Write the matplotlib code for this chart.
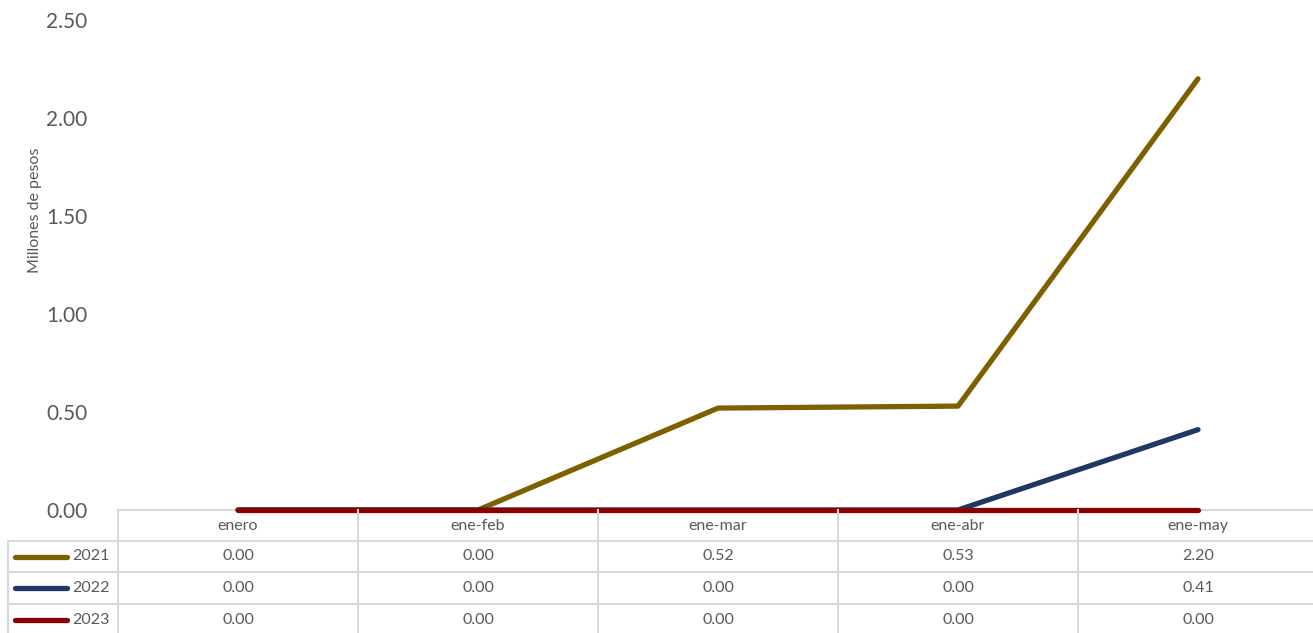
import matplotlib.pyplot as plt

# datos acumulados (millones de pesos)
periodos = ["enero", "ene-feb", "ene-mar", "ene-abr", "ene-may"]
anios = ["2021", "2022", "2023"]
v2021 = [0.00, 0.00, 0.52, 0.53, 2.20]
v2022 = [0.00, 0.00, 0.00, 0.00, 0.41]
v2023 = [0.00, 0.00, 0.00, 0.00, 0.00]
colores = ["#7F6000", "#203864", "#8B0000"]
yticks = [0.0, 0.5, 1.0, 1.5, 2.0, 2.5]

plt.rcParams['font.family'] = ['Lato', 'DejaVu Sans']
gris = "#595959"
linea = "#D9D9D9"

W, H = 1313, 633
fig = plt.figure(figsize=(W / 100, H / 100), dpi=100)

def fx(px):
    return px / W

def fy(py):
    return 1 - py / H

x0, x1 = 118, 1318
ytop, ybot = 20, 510
ax = fig.add_axes([fx(x0), fy(ybot), (x1 - x0) / W, (ybot - ytop) / H])
ax.set_xlim(-0.5, len(periodos) - 0.5)
ax.set_ylim(0, 2.5)

series = [v2021, v2022, v2023]
xs = range(len(periodos))
for vals, c in zip(series, colores):
    ax.plot(xs, vals, color=c, lw=3.8, solid_capstyle='round', clip_on=False, zorder=3)

for s in ["top", "right", "left"]:
    ax.spines[s].set_visible(False)
ax.spines["bottom"].set_color(linea)
ax.spines["bottom"].set_linewidth(1.5)
ax.spines["bottom"].set_zorder(1)
ax.set_xticks([])
ax.set_yticks(yticks)
ax.set_yticklabels([f"{t:.2f}" for t in yticks], fontsize=15, color=gris)
ax.tick_params(axis='y', length=0, pad=22)

fig.text(fx(35), fy(210), "Millones de pesos", rotation=90, ha='center', va='center',
         fontsize=11.5, color=gris)

# tabla de datos bajo el eje
col_w = 240
filas_y = [541, 572, 604, 636]
bordes_x = [x0 + col_w * i for i in range(len(periodos) + 1)]
for bx in bordes_x:
    fig.add_artist(plt.Line2D([fx(bx), fx(bx)], [fy(ybot), fy(H)], color=linea, lw=1.5))
fig.add_artist(plt.Line2D([fx(8), fx(8)], [fy(filas_y[0]), fy(H)], color=linea, lw=1.5))
for ry in filas_y[:-1]:
    fig.add_artist(plt.Line2D([fx(8), 1], [fy(ry), fy(ry)], color=linea, lw=1.5))

for i, p in enumerate(periodos):
    cx = x0 + col_w * (i + 0.5)
    fig.text(fx(cx), fy(526), p, ha='center', va='center', fontsize=11.5, color=gris)

for r, (anio, vals, c) in enumerate(zip(anios, series, colores)):
    cy = (filas_y[r] + filas_y[r + 1]) / 2
    fig.add_artist(plt.Line2D([fx(15), fx(67)], [fy(cy), fy(cy)], color=c, lw=3.8,
                              solid_capstyle='round'))
    fig.text(fx(72), fy(cy), anio, ha='left', va='center', fontsize=11.5, color=gris)
    for i, v in enumerate(vals):
        cx = x0 + col_w * (i + 0.5)
        fig.text(fx(cx), fy(cy), f"{v:.2f}", ha='center', va='center', fontsize=11.5, color=gris)

fig.savefig("out.png", dpi=100)
